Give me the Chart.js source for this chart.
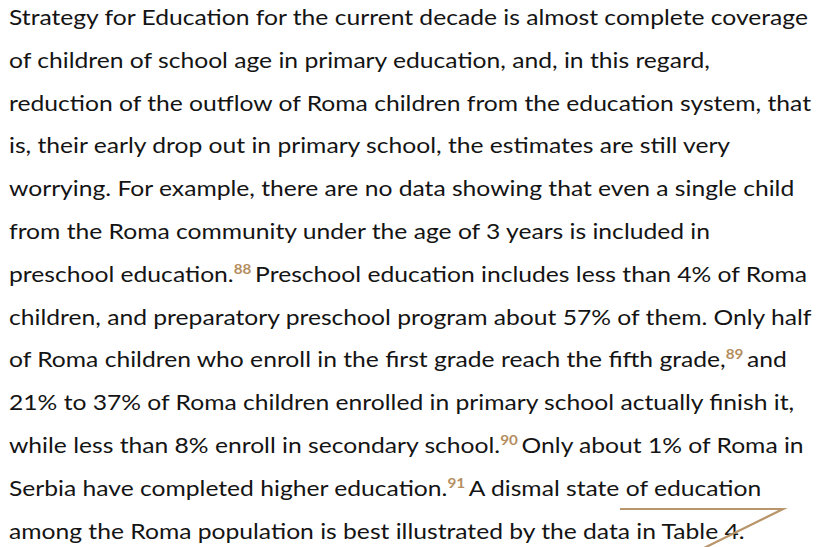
<!DOCTYPE html>
<html>
<head>
<meta charset="utf-8">
<script src="https://cdn.jsdelivr.net/npm/chart.js@4.4.0/dist/chart.umd.min.js"></script>
<style>
  html, body { margin: 0; padding: 0; background: #fff; }
  #wrap { position: relative; width: 825px; height: 547px; overflow: hidden; }
  #text {
    position: absolute; left: 9px; top: -4px;
    transform-origin: 0 0;
    font-family: Lato, "Open Sans", sans-serif; font-size: 21px; color: #141414;
    line-height: 42.8px; white-space: nowrap;
  }
  #text div { display: block; }
  #text span.ln { display: inline-block; }
  .fn {
    color: #b48e5e; font-size: 13px; font-weight: bold;
    position: relative; top: -8px; line-height: 0;
  }
  #decor { position: absolute; left: 0; top: 0; pointer-events: none; }
</style>
</head>
<body>
<div id="wrap">
  <div id="text"></div>
  <canvas id="decor" width="825" height="547"></canvas>
</div>
<script>
// paragraph lines as printed; [nn] marks a footnote reference
const paragraphLines = [
  'Strategy for Education for the current decade is almost complete coverage',
  'of children of school age in primary education, and, in this regard,',
  'reduction of the outflow of Roma children from the education system, that',
  'is, their early drop out in primary school, the estimates are still very',
  'worrying. For example, there are no data showing that even a single child',
  'from the Roma community under the age of 3 years is included in',
  'preschool education.[88] Preschool education includes less than 4% of Roma',
  'children, and preparatory preschool program about 57% of them. Only half',
  'of Roma children who enroll in the first grade reach the fifth grade,[89] and',
  '21% to 37% of Roma children enrolled in primary school actually finish it,',
  'while less than 8% enroll in secondary school.[90] Only about 1% of Roma in',
  'Serbia have completed higher education.[91] A dismal state of education',
  'among the Roma population is best illustrated by the data in Table 4.'
];

// gold corner stroke at the bottom right (page units)
const strokeX = [620, 783, 700];
const strokeY = [509, 509, 550];

const textBox = document.getElementById('text');
paragraphLines.forEach((line) => {
  const row = document.createElement('div');
  const span = document.createElement('span');
  span.className = 'ln';
  line.split(/(\[\d+\] ?)/).forEach((part) => {
    const m = part.match(/^\[(\d+)\]( ?)$/);
    if (m) {
      const sup = document.createElement('span');
      sup.className = 'fn';
      sup.textContent = m[1] + m[2];
      span.appendChild(sup);
    } else if (part) {
      span.appendChild(document.createTextNode(part));
    }
  });
  row.appendChild(span);
  textBox.appendChild(row);
});

// squeeze the substitute font to the width of the original first line
const firstWidth = textBox.querySelector('span.ln').getBoundingClientRect().width;
textBox.style.transform = 'scaleX(' + (799 / firstWidth) + ')';

new Chart(document.getElementById('decor'), {
  type: 'scatter',
  data: {
    datasets: [{
      data: strokeX.map((x, i) => ({ x: x, y: strokeY[i] })),
      showLine: true,
      borderColor: '#b8956a',
      borderWidth: 2.2,
      pointRadius: 0,
      tension: 0,
      clip: false
    }]
  },
  options: {
    responsive: false,
    animation: false,
    layout: { padding: 0 },
    plugins: { legend: { display: false }, tooltip: { enabled: false } },
    scales: {
      x: { type: 'linear', min: 0, max: 825, display: false },
      y: { type: 'linear', min: 0, max: 547, reverse: true, display: false }
    }
  }
});
</script>
</body>
</html>
